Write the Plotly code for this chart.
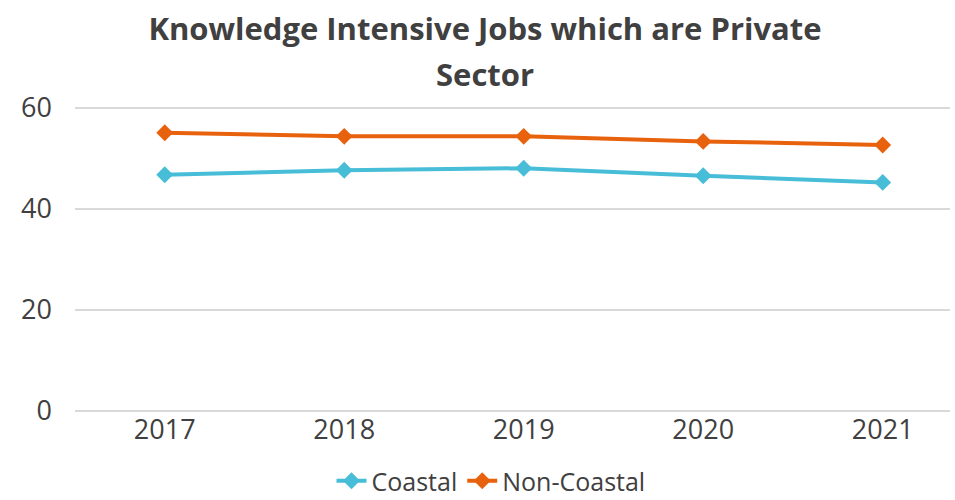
import plotly.graph_objects as go

years = ["2017", "2018", "2019", "2020", "2021"]
coastal = [46.7, 47.6, 48.0, 46.5, 45.2]
non_coastal = [55.0, 54.3, 54.3, 53.3, 52.6]
y_ticks = [0, 20, 40, 60]

title_line1 = "Knowledge Intensive Jobs which are Private"
title_line2 = "Sector"

FONT = "Open Sans"
TXT = "#404040"

fig = go.Figure()
fig.add_trace(go.Scatter(
    x=years, y=coastal, name="Coastal", mode="lines+markers",
    line=dict(color="#47BDD8", width=4),
    marker=dict(symbol="diamond", size=13, color="#47BDD8"),
))
fig.add_trace(go.Scatter(
    x=years, y=non_coastal, name="Non-Coastal", mode="lines+markers",
    line=dict(color="#E8620E", width=4),
    marker=dict(symbol="diamond", size=13, color="#E8620E"),
))

fig.update_layout(
    width=955, height=500,
    paper_bgcolor="white", plot_bgcolor="white",
    margin=dict(l=75, r=5, t=106, b=89, autoexpand=False),
    title=dict(text="<b>" + title_line1 + "</b>", x=485 / 955, xanchor="center",
               xref="container", yref="container",
               y=1 - 29 / 500, yanchor="middle",
               font=dict(family=FONT, size=31, color=TXT)),
    annotations=[dict(text="<b>" + title_line2 + "</b>", xref="paper", yref="paper",
                      x=(485 - 75) / 875, y=(411 - 74) / 305, xanchor="center",
                      yanchor="middle", showarrow=False,
                      font=dict(family=FONT, size=31, color=TXT))],
    xaxis=dict(type="category", range=[-0.5, 4.375], showgrid=False,
               showline=False, ticks="", automargin=False,
               tickfont=dict(family=FONT, size=27, color=TXT)),
    yaxis=dict(range=[0, 60.3], tickvals=y_ticks, showgrid=True, gridcolor="#D9D9D9",
               gridwidth=1.5, zeroline=True, zerolinecolor="#D9D9D9", zerolinewidth=1.5,
               showline=False, ticks="", automargin=False,
               ticklabelstandoff=22,
               tickfont=dict(family=FONT, size=27, color=TXT)),
    showlegend=True,
    legend=dict(orientation="h", x=491 / 955, xanchor="center", xref="container",
                yref="container", y=1 - 481 / 500, yanchor="middle",
                font=dict(family=FONT, size=25, color=TXT), itemwidth=30,
                tracegroupgap=0),
)

fig.write_html("out.html", post_script="document.body.style.margin='0';",
               config={"displayModeBar": False})
